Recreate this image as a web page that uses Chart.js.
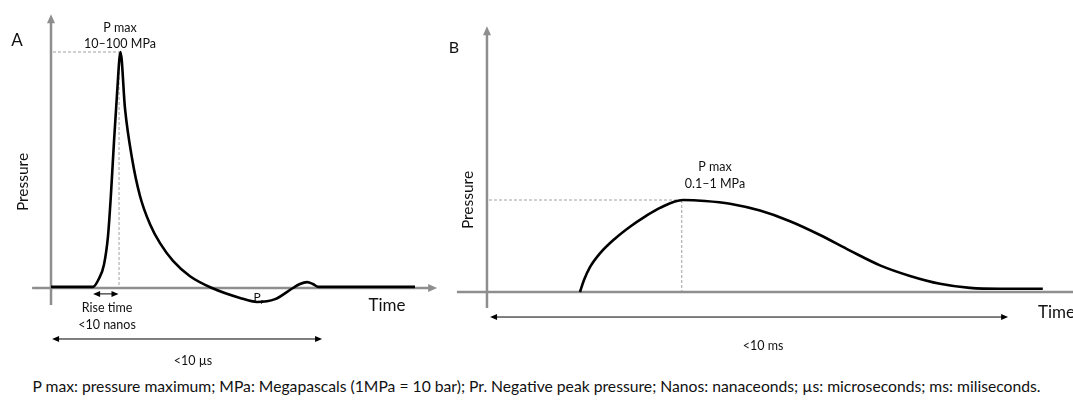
<!DOCTYPE html>
<html>
<head>
<meta charset="utf-8">
<script src="https://cdn.jsdelivr.net/npm/chart.js@4.4.0/dist/chart.umd.min.js"></script>
<style>
  body { margin: 0; background: #fff; width: 1073px; height: 403px; overflow: hidden; position: relative; }
  #panelA { position: absolute; left: 0; top: 0; }
  #panelB { position: absolute; left: 440px; top: 0; }
  #caption { position: absolute; left: 0; top: 377px; width: 1073px; text-align: center;
             font-family: Lato, "Open Sans", sans-serif; font-size: 15.7px; color: #111; }
</style>
</head>
<body>
<canvas id="panelA" width="440" height="375"></canvas>
<canvas id="panelB" width="633" height="375"></canvas>
<div id="caption">P max: pressure maximum; MPa: Megapascals (1MPa = 10 bar); Pr. Negative peak pressure; Nanos: nanaceonds; µs: microseconds; ms: miliseconds.</div>
<script>
// Panel A: shock wave, time in µs (schematic), pressure in % of P max
const timeA = [0, 1.556, 1.778, 1.963, 2.111, 2.222, 2.333, 2.444, 2.574, 2.741, 3.0, 3.296, 3.667, 4.037, 4.519, 5.148, 5.963, 7.0, 7.63, 8.3, 8.96, 9.22, 9.48, 9.7, 9.89, 13.48];
const pressureA = [0.5, 0.5, 4, 10, 22, 40, 62, 82, 100, 76, 55, 39, 27, 19, 11.5, 5, 0, -4.2, -5.9, -4.7, 0, 1.7, 2.5, 1.7, 0.5, 0.5];

// Panel B: radial pressure wave, time in ms (schematic), pressure normalised to P max
const timeB = [1.795, 1.873, 1.988, 2.181, 2.471, 2.761, 3.05, 3.34, 3.784, 4.208, 4.691, 5.27, 5.849, 6.429, 7.008, 7.587, 8.166, 8.745, 9.324, 9.903, 10.73];
const pressureB = [0, 0.13, 0.27, 0.42, 0.58, 0.71, 0.82, 0.915, 1.0, 0.99, 0.96, 0.885, 0.77, 0.62, 0.45, 0.29, 0.175, 0.09, 0.045, 0.035, 0.035];

const GRAY = '#8e8e8e';
const FONT = 'Lato, "Open Sans", sans-serif';

function toPoints(xs, ys) {
  return xs.map((t, i) => ({x: t, y: ys[i]}));
}

function line(ctx, x1, y1, x2, y2) {
  ctx.beginPath();
  ctx.moveTo(x1, y1);
  ctx.lineTo(x2, y2);
  ctx.stroke();
}

// filled triangle with tip at (x, y), pointing in direction (dx, dy)
function head(ctx, x, y, dx, dy, len, half) {
  ctx.beginPath();
  ctx.moveTo(x, y);
  ctx.lineTo(x - dx * len - dy * half, y - dy * len + dx * half);
  ctx.lineTo(x - dx * len + dy * half, y - dy * len - dx * half);
  ctx.closePath();
  ctx.fill();
}

const schematic = {
  id: 'schematic',
  beforeDatasetsDraw(chart, args, o) {
    const {ctx, scales: {x, y}} = chart;
    const x0 = x.getPixelForValue(0);
    const y0 = y.getPixelForValue(0);
    ctx.save();

    // axes with arrows
    ctx.strokeStyle = GRAY;
    ctx.fillStyle = GRAY;
    ctx.lineWidth = 2.5;
    const yTop = y.getPixelForValue(o.yAxis[1]);
    line(ctx, x0, y.getPixelForValue(o.yAxis[0]), x0, yTop + 6);
    head(ctx, x0, yTop, 0, -1, 9, 4);
    const xEnd = x.getPixelForValue(o.xAxis[1]);
    line(ctx, x.getPixelForValue(o.xAxis[0]), y0, xEnd - 6, y0);
    head(ctx, xEnd, y0, 1, 0, 9, 4);

    // dashed guides to the peak
    const px = x.getPixelForValue(o.peak[0]);
    const py = y.getPixelForValue(o.peak[1]);
    ctx.strokeStyle = '#a0a0a0';
    ctx.lineWidth = 1;
    ctx.setLineDash([3, 2]);
    line(ctx, x0 + 2, py, px, py);
    line(ctx, px, py, px, y0 - 1);
    ctx.setLineDash([]);

    // double-headed span arrows
    ctx.strokeStyle = '#000';
    ctx.fillStyle = '#000';
    ctx.lineWidth = 1;
    o.spans.forEach(s => {
      const a = x.getPixelForValue(s[0]), b = x.getPixelForValue(s[1]), yy = y.getPixelForValue(s[2]);
      line(ctx, a + 3, yy, b - 3, yy);
      head(ctx, a, yy, -1, 0, 7, 3);
      head(ctx, b, yy, 1, 0, 7, 3);
    });
    ctx.restore();
  },
  afterDraw(chart, args, o) {
    const {ctx} = chart;
    ctx.save();
    ctx.fillStyle = '#111';
    ctx.textBaseline = 'middle';
    o.texts.forEach(t => {
      ctx.font = t.size + 'px ' + FONT;
      ctx.textAlign = t.align || 'center';
      ctx.save();
      ctx.translate(t.x, t.y);
      if (t.rotate) ctx.rotate(-Math.PI / 2);
      ctx.fillText(t.text, 0, 0);
      if (t.sub) {
        const w = ctx.measureText(t.text).width;
        ctx.font = '8px ' + FONT;
        ctx.textAlign = 'left';
        ctx.fillText(t.sub, w / 2, 4);
      }
      ctx.restore();
    });
    ctx.restore();
  }
};

function makeChart(id, xs, ys, range, opts) {
  return new Chart(document.getElementById(id), {
    type: 'scatter',
    data: {
      datasets: [{
        data: toPoints(xs, ys),
        showLine: true,
        borderColor: '#000',
        borderWidth: 2.6,
        pointRadius: 0,
        cubicInterpolationMode: 'monotone',
        fill: false
      }]
    },
    options: {
      responsive: false,
      animation: false,
      layout: {padding: 0},
      events: [],
      scales: {
        x: {type: 'linear', display: false, min: range[0], max: range[1]},
        y: {type: 'linear', display: false, min: range[2], max: range[3]}
      },
      plugins: {
        legend: {display: false},
        tooltip: {enabled: false},
        schematic: opts
      }
    },
    plugins: [schematic]
  });
}

makeChart('panelA', timeA, pressureA, [-1.889, 14.407, -36.86, 122.03], {
  xAxis: [-0.7, 14.3],
  yAxis: [-7.2, 116],
  peak: [2.52, 100],
  spans: [[1.56, 2.5, -2.5], [0.04, 10.04, -21.6]],
  texts: [
    {text: 'A', x: 17, y: 41, size: 17, align: 'center'},
    {text: 'P max', x: 120, y: 28, size: 12.5},
    {text: '10–100 MPa', x: 120, y: 44, size: 12.5},
    {text: 'Pressure', x: 23, y: 182, size: 15.5, rotate: true},
    {text: 'Time', x: 387, y: 306, size: 17},
    {text: 'Rise time', x: 107, y: 308, size: 12.5},
    {text: '<10 nanos', x: 107, y: 325, size: 12.5},
    {text: '<10 µs', x: 193, y: 361, size: 12.5},
    {text: 'P', x: 257, y: 297, size: 12, sub: 'r'}
  ]
});

makeChart('panelB', timeB, pressureB, [-0.907, 11.313, -0.902, 3.174], {
  xAxis: [-0.58, 11.6],
  yAxis: [-0.174, 2.89],
  peak: [3.76, 1.0],
  spans: [[0.06, 10.06, -0.272]],
  texts: [
    {text: 'B', x: 14, y: 48, size: 16},
    {text: 'Pressure', x: 28, y: 200, size: 15.5, rotate: true},
    {text: 'P max', x: 275, y: 167, size: 12.5},
    {text: '0.1–1 MPa', x: 275, y: 184, size: 12.5},
    {text: 'Time', x: 598, y: 313, size: 17, align: 'left'},
    {text: '<10 ms', x: 323, y: 346, size: 12.5}
  ]
});
</script>
</body>
</html>
